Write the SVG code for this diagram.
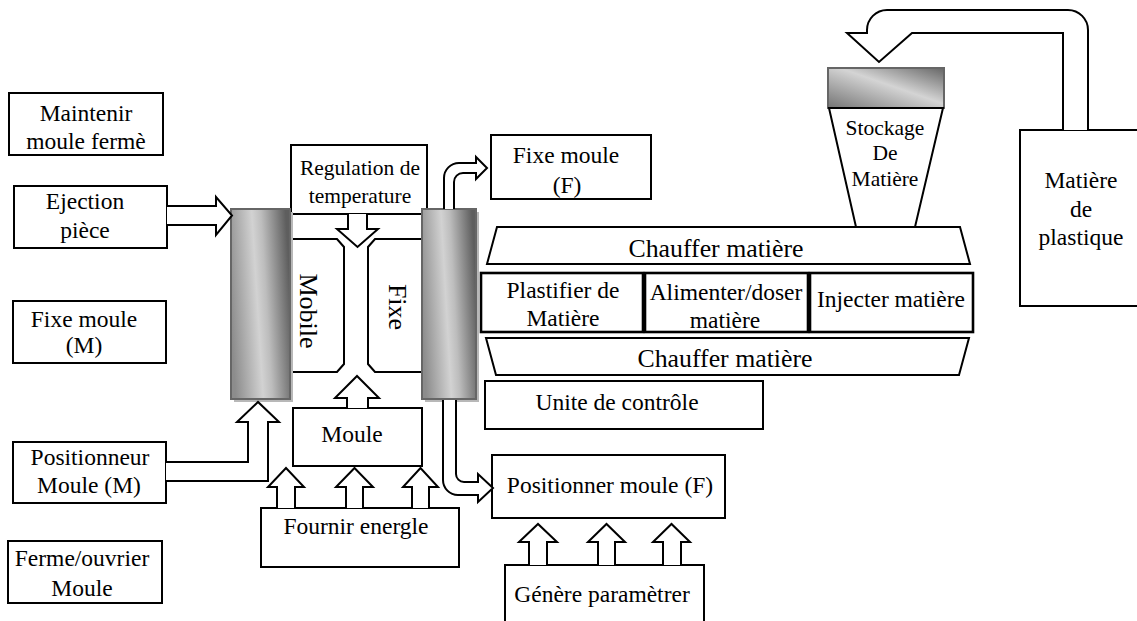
<svg xmlns="http://www.w3.org/2000/svg" width="1137" height="621" viewBox="0 0 1137 621">
<defs>
<linearGradient id="metal" x1="0" y1="0.6" x2="1" y2="0.4">
<stop offset="0" stop-color="#8c8c8c"/>
<stop offset="0.45" stop-color="#d2d2d2"/>
<stop offset="0.6" stop-color="#bdbdbd"/>
<stop offset="1" stop-color="#5e5e5e"/>
</linearGradient>
<linearGradient id="metalH" x1="0" y1="1" x2="1" y2="0">
<stop offset="0" stop-color="#747474"/>
<stop offset="0.55" stop-color="#d4d4d4"/>
<stop offset="1" stop-color="#666"/>
</linearGradient>
<style>
.b{fill:#fff;stroke:#000;stroke-width:2}
.bb{fill:#fff;stroke:#000;stroke-width:2.6}
.ar{fill:#fff;stroke:#000;stroke-width:2;stroke-linejoin:miter}
.m{stroke:#666;stroke-width:2}
.sh{fill:#b8b8b8}
text{font-family:"Liberation Serif","Times New Roman",serif;font-size:23.5px;fill:#000;text-anchor:middle}
.s{font-size:21.5px}
.c{font-size:25.8px}
.v{font-size:26px}
</style>
</defs>

<g id="maintenir">
<rect class="b" x="9" y="93" width="154" height="62"/>
<text x="86" y="121">Maintenir</text>
<text x="86" y="149">moule fermè</text>
</g>
<g id="ejection">
<rect class="b" x="14" y="186" width="153" height="62"/>
<text x="85" y="209">Ejection</text>
<text x="85" y="238">pièce</text>
</g>
<g id="fixe-moule-m">
<rect class="b" x="13" y="301" width="153" height="62"/>
<text x="84" y="327">Fixe moule</text>
<text x="84" y="353">(M)</text>
</g>
<g id="positionneur-m">
<rect class="b" x="13" y="442" width="153" height="61"/>
<text x="90" y="465">Positionneur</text>
<text x="89" y="493">Moule (M)</text>
</g>
<g id="ferme-ouvrier">
<rect class="b" x="8" y="541" width="154" height="62"/>
<text x="82" y="566">Ferme/ouvrier</text>
<text x="82" y="596">Moule</text>
</g>

<g id="regulation">
<rect class="b" x="291" y="145" width="136" height="69"/>
<text class="s" x="360" y="175">Regulation de</text>
<text class="s" x="360" y="203">temperature</text>
</g>
<g id="mobile">
<path class="b" d="M291,239 H337 L344,247 V364 L337,372 H291"/>
<text class="v" transform="translate(300,311) rotate(90)">Mobile</text>
</g>
<g id="fixe">
<path class="b" d="M422,239 H375 L368,247 V364 L375,372 H422"/>
<text class="v" transform="translate(389,307) rotate(90)">Fixe</text>
</g>
<g id="plateau-mobile">
<rect class="sh" x="234" y="212" width="59" height="190"/>
<rect class="m" x="231" y="209" width="59" height="190" fill="url(#metal)"/>
</g>
<g id="plateau-fixe">
<rect class="sh" x="425" y="212" width="54" height="190"/>
<rect class="m" x="422" y="209" width="54" height="190" fill="url(#metal)"/>
</g>
<g id="moule">
<rect class="b" x="293" y="408" width="129" height="58"/>
<text x="352" y="442">Moule</text>
</g>
<g id="fournir">
<rect class="b" x="261" y="508" width="198" height="59"/>
<text x="356" y="534">Fournir energle</text>
</g>
<g id="fixe-moule-f">
<rect class="b" x="491" y="135" width="160" height="64"/>
<text x="566" y="163">Fixe moule</text>
<text x="567" y="193">(F)</text>
</g>
<g id="chauffer-haut">
<polygon class="b" points="497,227 960,227 970,264 487,264"/>
<text class="c" x="716" y="257">Chauffer matière</text>
</g>
<g id="plastifier">
<rect class="bb" x="481" y="273" width="162" height="59"/>
<text x="563" y="298">Plastifier de</text>
<text x="563" y="326">Matière</text>
</g>
<g id="alimenter">
<rect class="bb" x="645" y="273" width="163" height="59"/>
<text x="726" y="300">Alimenter/doser</text>
<text x="725" y="328">matière</text>
</g>
<g id="injecter">
<rect class="bb" x="810" y="273" width="163" height="59"/>
<text x="891" y="307">Injecter matière</text>
</g>
<g id="chauffer-bas">
<polygon class="b" points="486,338 969,338 959,375 496,375"/>
<text class="c" x="725" y="367">Chauffer matière</text>
</g>
<g id="unite-controle">
<rect class="b" x="485" y="381" width="278" height="48"/>
<text x="617" y="410">Unite de contrôle</text>
</g>
<g id="positionner-f">
<rect class="b" x="492" y="455" width="233" height="63"/>
<text x="610" y="493">Positionner moule (F)</text>
</g>
<g id="genere">
<rect class="b" x="505" y="565" width="199" height="65"/>
<text x="602" y="602">Génère paramètrer</text>
</g>
<g id="stockage">
<rect class="m" x="828" y="68" width="116" height="40" fill="url(#metalH)"/>
<polygon class="b" points="829,108 943,108 915,227 856,227"/>
<text class="s" x="885" y="135">Stockage</text>
<text class="s" x="885" y="160">De</text>
<text class="s" x="885" y="186">Matière</text>
</g>
<g id="matiere-plastique">
<rect class="b" x="1020" y="130" width="122" height="176"/>
<text x="1081" y="188">Matière</text>
<text x="1081" y="217">de</text>
<text x="1081" y="245">plastique</text>
</g>

<g id="connectors">
<path class="ar" d="M167,206 H216 V197 L232,215.5 L216,235 V225 H167"/>
<path class="ar" d="M348,214 V229 H337 L357.5,247 L378,229 H367 V214"/>
<path class="ar" d="M347,408 V398 H335 L357,376 L379,398 H368 V408"/>
<path class="ar" d="M277,508 V487 H268 L286,468 L304,487 H295 V508"/>
<path class="ar" d="M346,508 V487 H336 L354.5,468 L373,487 H363 V508"/>
<path class="ar" d="M412,508 V487 H403 L420.5,468 L438,487 H429 V508"/>
<path class="ar" d="M166,462 H248 V422 H237 L258,402 L279,422 H268 V481 H166"/>
<path class="ar" d="M444,209 V178 A15 15 0 0 1 459 163 H476 V157 L487 168 L476 179 V173 H463 A9 9 0 0 0 454 182 V209"/>
<path class="ar" d="M443,400 V480 A15 15 0 0 0 458 495 H478 V502 L493 488 L478 474 V482 H464 A8 8 0 0 1 456 474 V400"/>
<path class="ar" d="M529,565 V542 H519 L538,524 L557,542 H547 V565"/>
<path class="ar" d="M598,565 V542 H588 L606.5,524 L625,542 H615 V565"/>
<path class="ar" d="M663,565 V542 H653 L671.5,524 L690,542 H681 V565"/>
<path class="ar" d="M1088,130 V30 A20 20 0 0 0 1068 10 H887 A20 20 0 0 0 867 30 V33 H847 L879 62 L912 33 H1063 V130"/>
</g>
</svg>
